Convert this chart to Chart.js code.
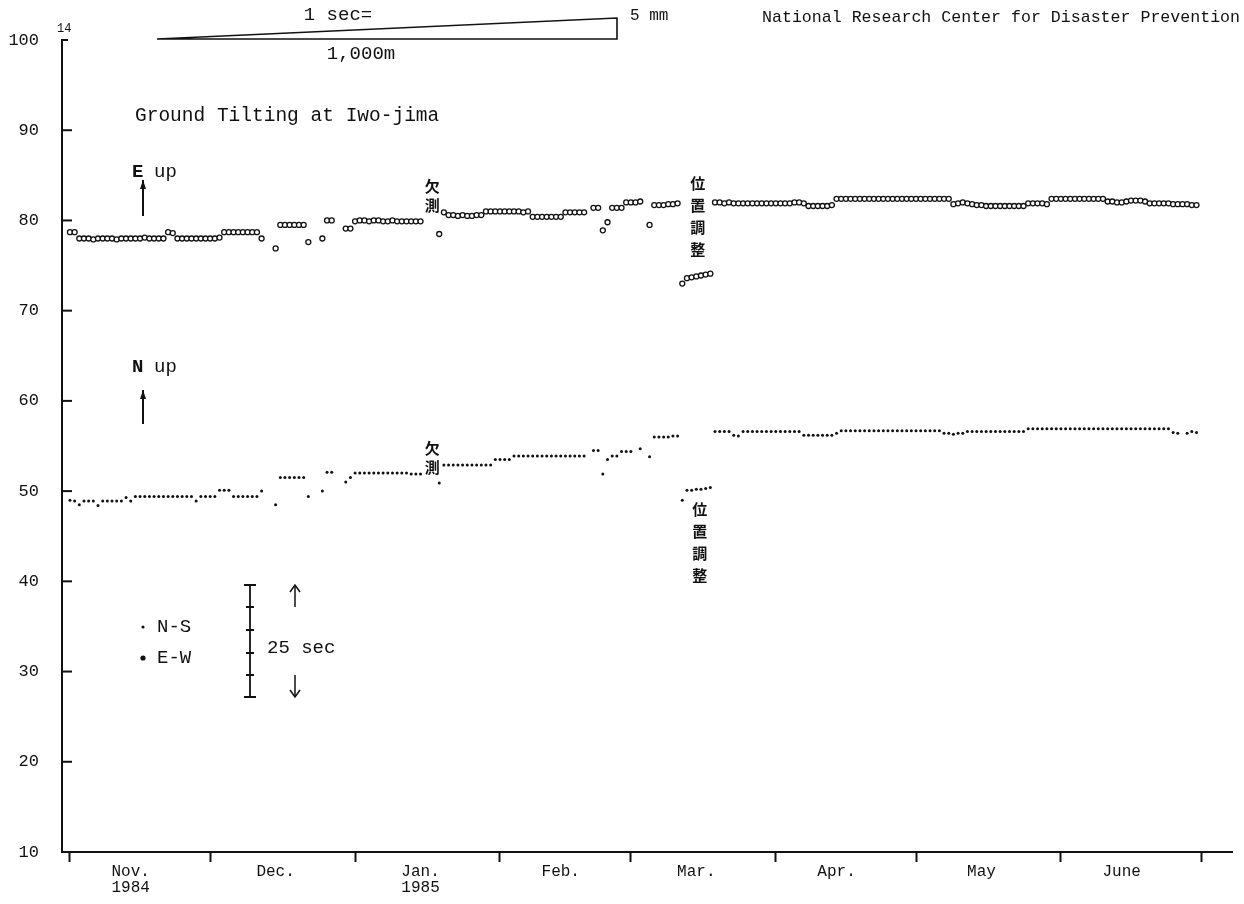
<!DOCTYPE html>
<html>
<head>
<meta charset="utf-8">
<script src="https://cdn.jsdelivr.net/npm/chart.js@4.4.0/dist/chart.umd.min.js"></script>
<style>
    html, body { margin: 0; padding: 0; background: #fff; }
    #wrap { width: 1244px; height: 904px; }
</style>
</head>
<body>
<div id="wrap"><canvas id="tiltChart" width="1244" height="904"></canvas></div>
<script>
// days counted from 1 Nov 1984 (index 0)
const monthStarts = [0, 30, 61, 92, 120, 151, 181, 212, 242];
const monthLabels = [['Nov.', '1984'], 'Dec.', ['Jan.', '1985'], 'Feb.', 'Mar.', 'Apr.', 'May', 'June'];
const monthLabelDays = [13, 44, 75, 105, 134, 164, 195, 225];
const yTicks = [10, 20, 30, 40, 50, 60, 70, 80, 90, 100];

// E-W component (open circles), one value per day
const ewNov = [78.7, 78.7, 78.0, 78.0, 78.0, 77.9, 78.0, 78.0, 78.0, 78.0,
    77.9, 78.0, 78.0, 78.0, 78.0, 78.0, 78.1, 78.0, 78.0, 78.0,
    78.0, 78.7, 78.6, 78.0, 78.0, 78.0, 78.0, 78.0, 78.0, 78.0];
const ewDec = [78.0, 78.0, 78.1, 78.7, 78.7, 78.7, 78.7, 78.7, 78.7, 78.7,
    78.7, 78.0, null, null, 76.9, 79.5, 79.5, 79.5, 79.5, 79.5,
    79.5, 77.6, null, null, 78.0, 80.0, 80.0, null, null, 79.1,
    79.1];
const ewJan = [79.9, 80.0, 80.0, 79.9, 80.0, 80.0, 79.9, 79.9, 80.0, 79.9,
    79.9, 79.9, 79.9, 79.9, 79.9, null, null, null, 78.5, 80.9,
    80.6, 80.6, 80.5, 80.6, 80.5, 80.5, 80.6, 80.6, 81.0, 81.0,
    81.0];
const ewFeb = [81.0, 81.0, 81.0, 81.0, 81.0, 80.9, 81.0, 80.4, 80.4, 80.4,
    80.4, 80.4, 80.4, 80.4, 80.9, 80.9, 80.9, 80.9, 80.9, null,
    81.4, 81.4, 78.9, 79.8, 81.4, 81.4, 81.4, 82.0];
const ewMar = [82.0, 82.0, 82.1, null, 79.5, 81.7, 81.7, 81.7, 81.8, 81.8,
    81.9, 73.0, 73.6, 73.7, 73.8, 73.9, 74.0, 74.1, 82.0, 82.0,
    81.9, 82.0, 81.9, 81.9, 81.9, 81.9, 81.9, 81.9, 81.9, 81.9,
    81.9];
const ewApr = [81.9, 81.9, 81.9, 81.9, 82.0, 82.0, 81.9, 81.6, 81.6, 81.6,
    81.6, 81.6, 81.7, 82.4, 82.4, 82.4, 82.4, 82.4, 82.4, 82.4,
    82.4, 82.4, 82.4, 82.4, 82.4, 82.4, 82.4, 82.4, 82.4, 82.4];
const ewMay = [82.4, 82.4, 82.4, 82.4, 82.4, 82.4, 82.4, 82.4, 81.8, 81.9,
    82.0, 81.9, 81.8, 81.7, 81.7, 81.6, 81.6, 81.6, 81.6, 81.6,
    81.6, 81.6, 81.6, 81.6, 81.9, 81.9, 81.9, 81.9, 81.8, 82.4,
    82.4];
const ewJun = [82.4, 82.4, 82.4, 82.4, 82.4, 82.4, 82.4, 82.4, 82.4, 82.4,
    82.1, 82.1, 82.0, 82.0, 82.1, 82.2, 82.2, 82.2, 82.1, 81.9,
    81.9, 81.9, 81.9, 81.9, 81.8, 81.8, 81.8, 81.8, 81.7, 81.7];

// N-S component (small dots), one value per day
const nsNov = [49.0, 48.9, 48.5, 48.9, 48.9, 48.9, 48.4, 48.9, 48.9, 48.9,
    48.9, 48.9, 49.3, 48.9, 49.4, 49.4, 49.4, 49.4, 49.4, 49.4,
    49.4, 49.4, 49.4, 49.4, 49.4, 49.4, 49.4, 48.9, 49.4, 49.4];
const nsDec = [49.4, 49.4, 50.1, 50.1, 50.1, 49.4, 49.4, 49.4, 49.4, 49.4,
    49.4, 50.0, null, null, 48.5, 51.5, 51.5, 51.5, 51.5, 51.5,
    51.5, 49.4, null, null, 50.0, 52.1, 52.1, null, null, 51.0,
    51.5];
const nsJan = [52.0, 52.0, 52.0, 52.0, 52.0, 52.0, 52.0, 52.0, 52.0, 52.0,
    52.0, 52.0, 51.9, 51.9, 51.9, null, null, null, 50.9, 52.9,
    52.9, 52.9, 52.9, 52.9, 52.9, 52.9, 52.9, 52.9, 52.9, 52.9,
    53.5];
const nsFeb = [53.5, 53.5, 53.5, 53.9, 53.9, 53.9, 53.9, 53.9, 53.9, 53.9,
    53.9, 53.9, 53.9, 53.9, 53.9, 53.9, 53.9, 53.9, 53.9, null,
    54.5, 54.5, 51.9, 53.5, 53.9, 53.9, 54.4, 54.4];
const nsMar = [54.4, null, 54.7, null, 53.8, 56.0, 56.0, 56.0, 56.0, 56.1,
    56.1, 49.0, 50.1, 50.1, 50.2, 50.2, 50.3, 50.4, 56.6, 56.6,
    56.6, 56.6, 56.2, 56.1, 56.6, 56.6, 56.6, 56.6, 56.6, 56.6,
    56.6];
const nsApr = [56.6, 56.6, 56.6, 56.6, 56.6, 56.6, 56.2, 56.2, 56.2, 56.2,
    56.2, 56.2, 56.2, 56.4, 56.7, 56.7, 56.7, 56.7, 56.7, 56.7,
    56.7, 56.7, 56.7, 56.7, 56.7, 56.7, 56.7, 56.7, 56.7, 56.7];
const nsMay = [56.7, 56.7, 56.7, 56.7, 56.7, 56.7, 56.4, 56.4, 56.3, 56.4,
    56.4, 56.6, 56.6, 56.6, 56.6, 56.6, 56.6, 56.6, 56.6, 56.6,
    56.6, 56.6, 56.6, 56.6, 56.9, 56.9, 56.9, 56.9, 56.9, 56.9,
    56.9];
const nsJun = [56.9, 56.9, 56.9, 56.9, 56.9, 56.9, 56.9, 56.9, 56.9, 56.9,
    56.9, 56.9, 56.9, 56.9, 56.9, 56.9, 56.9, 56.9, 56.9, 56.9,
    56.9, 56.9, 56.9, 56.9, 56.5, 56.4, null, 56.4, 56.6, 56.5];

const ewValues = [].concat(ewNov, ewDec, ewJan, ewFeb, ewMar, ewApr, ewMay, ewJun);
const nsValues = [].concat(nsNov, nsDec, nsJan, nsFeb, nsMar, nsApr, nsMay, nsJun);

const MONO = "'Liberation Mono', 'DejaVu Sans Mono', monospace";
const CJK = "'Noto Sans CJK JP', 'Noto Sans CJK SC', sans-serif";

function toPoints(values) {
    return values.map((v, i) => v === null ? null : { x: i, y: v }).filter(p => p);
}

function arrow(ctx, x, yFrom, yTo, solid) {
    const dir = yTo < yFrom ? -1 : 1;
    ctx.beginPath();
    ctx.moveTo(x, yFrom);
    ctx.lineTo(x, yTo);
    ctx.stroke();
    ctx.beginPath();
    if (solid) {
        ctx.moveTo(x, yTo);
        ctx.lineTo(x - 3, yTo - dir * 9);
        ctx.lineTo(x + 3, yTo - dir * 9);
        ctx.closePath();
        ctx.fill();
    } else {
        ctx.moveTo(x - 5, yTo - dir * 7);
        ctx.lineTo(x, yTo);
        ctx.lineTo(x + 5, yTo - dir * 7);
        ctx.stroke();
    }
}

function vText(ctx, chars, x, y, step) {
    chars.forEach((c, i) => ctx.fillText(c, x, y + i * step));
}

const decorations = {
    id: 'decorations',
    afterDraw(chart) {
        const ctx = chart.ctx;
        const xs = chart.scales.x;
        const ys = chart.scales.y;
        const area = chart.chartArea;
        ctx.save();
        ctx.strokeStyle = '#111';
        ctx.fillStyle = '#111';

        // y tick marks, drawn inside the axis
        ctx.lineWidth = 2;
        yTicks.forEach(v => {
            const py = ys.getPixelForValue(v);
            ctx.beginPath();
            ctx.moveTo(area.left, py);
            ctx.lineTo(area.left + (v === 100 ? 6 : 10), py);
            ctx.stroke();
        });

        // scale triangle at the top
        ctx.lineWidth = 1.6;
        ctx.beginPath();
        ctx.moveTo(157, 39);
        ctx.lineTo(617, 18);
        ctx.lineTo(617, 39);
        ctx.closePath();
        ctx.stroke();

        ctx.textBaseline = 'middle';
        ctx.font = '19px ' + MONO;
        ctx.textAlign = 'center';
        ctx.fillText('1 sec=', 338, 15);
        ctx.fillText('1,000m', 361, 54);
        ctx.textAlign = 'left';
        ctx.font = '16px ' + MONO;
        ctx.fillText('5 mm', 630, 16);
        ctx.font = '12px ' + MONO;
        ctx.fillText('14', 57, 29);
        ctx.font = '16.6px ' + MONO;
        ctx.textAlign = 'right';
        ctx.fillText('National Research Center for Disaster Prevention', 1240, 18);

        ctx.textAlign = 'left';
        ctx.font = '19.5px ' + MONO;
        ctx.fillText('Ground Tilting at Iwo-jima', 135, 116);

        // component labels with arrows
        ctx.font = 'bold 19px ' + MONO;
        ctx.fillText('E', 132, 172);
        ctx.fillText('N', 132, 367);
        ctx.font = '19px ' + MONO;
        ctx.fillText('up', 154, 172);
        ctx.fillText('up', 154, 367);
        ctx.lineWidth = 2;
        arrow(ctx, 143, 216, 180, true);
        arrow(ctx, 143, 424, 390, true);

        // missing-data and position-adjustment notes
        ctx.font = 'bold 15px ' + CJK;
        ctx.textAlign = 'center';
        const xGap = xs.getPixelForValue(77.5);
        vText(ctx, ['欠', '測'], xGap, ys.getPixelForValue(83.8), 19);
        vText(ctx, ['欠', '測'], xGap, ys.getPixelForValue(54.8), 19);
        const xAdj = xs.getPixelForValue(134.3);
        vText(ctx, ['位', '置', '調', '整'], xAdj, ys.getPixelForValue(84.1), 22);
        vText(ctx, ['位', '置', '調', '整'], xAdj + 2, ys.getPixelForValue(48.0), 22);

        // legend
        ctx.beginPath();
        ctx.arc(143, 627, 1.6, 0, Math.PI * 2);
        ctx.fill();
        ctx.beginPath();
        ctx.arc(143, 658, 2.6, 0, Math.PI * 2);
        ctx.fill();
        ctx.font = '19px ' + MONO;
        ctx.textAlign = 'left';
        ctx.fillText('N-S', 157, 627);
        ctx.fillText('E-W', 157, 658);

        // 25 sec scale bar
        ctx.lineWidth = 1.8;
        ctx.beginPath();
        ctx.moveTo(250, 585);
        ctx.lineTo(250, 697);
        [585, 697].forEach(y => { ctx.moveTo(244, y); ctx.lineTo(256, y); });
        [607, 630, 653, 675].forEach(y => { ctx.moveTo(246, y); ctx.lineTo(254, y); });
        ctx.stroke();
        ctx.lineWidth = 1.5;
        arrow(ctx, 295, 607, 585, false);
        arrow(ctx, 295, 675, 697, false);
        ctx.fillText('25 sec', 267, 648);

        ctx.restore();
    }
};

new Chart(document.getElementById('tiltChart').getContext('2d'), {
    type: 'scatter',
    data: {
        datasets: [{
            label: 'E-W',
            data: toPoints(ewValues),
            pointStyle: 'circle',
            pointRadius: 2.5,
            pointBorderWidth: 1.3,
            pointBackgroundColor: '#fff',
            pointBorderColor: '#111'
        }, {
            label: 'N-S',
            data: toPoints(nsValues),
            pointStyle: 'circle',
            pointRadius: 1.5,
            pointBorderWidth: 0,
            pointBackgroundColor: '#111',
            pointBorderColor: '#111'
        }]
    },
    options: {
        responsive: false,
        animation: false,
        devicePixelRatio: 1,
        layout: { padding: { top: 40, right: 12, left: 0, bottom: 0 } },
        plugins: {
            legend: { display: false },
            tooltip: { enabled: false }
        },
        scales: {
            x: {
                type: 'linear',
                min: -1.7,
                max: 248.6,
                afterFit: s => {
                    s.height = 52;
                    s.paddingLeft = 0;
                    s.paddingRight = 0;
                },
                afterBuildTicks: s => {
                    s.ticks = monthStarts.concat(monthLabelDays)
                        .sort((a, b) => a - b)
                        .map(v => ({ value: v }));
                },
                ticks: {
                    autoSkip: false,
                    maxRotation: 0,
                    padding: 2,
                    color: '#111',
                    font: { family: MONO, size: 16, lineHeight: 1.0 },
                    callback: value => {
                        const i = monthLabelDays.indexOf(value);
                        return i >= 0 ? monthLabels[i] : '';
                    }
                },
                grid: {
                    drawOnChartArea: false,
                    drawTicks: true,
                    tickLength: 10,
                    tickWidth: 2,
                    tickColor: c => monthStarts.includes(c.tick.value) ? '#111' : 'rgba(0,0,0,0)'
                },
                border: { display: true, color: '#111', width: 2 }
            },
            y: {
                type: 'linear',
                min: 10,
                max: 100,
                afterFit: s => {
                    s.width = 62;
                    s.paddingTop = 0;
                    s.paddingBottom = 0;
                },
                afterBuildTicks: s => {
                    s.ticks = yTicks.map(v => ({ value: v }));
                },
                ticks: {
                    padding: 15,
                    color: '#111',
                    font: { family: MONO, size: 17 }
                },
                grid: { display: false },
                border: { display: true, color: '#111', width: 2 }
            }
        }
    },
    plugins: [decorations]
});
</script>
</body>
</html>
